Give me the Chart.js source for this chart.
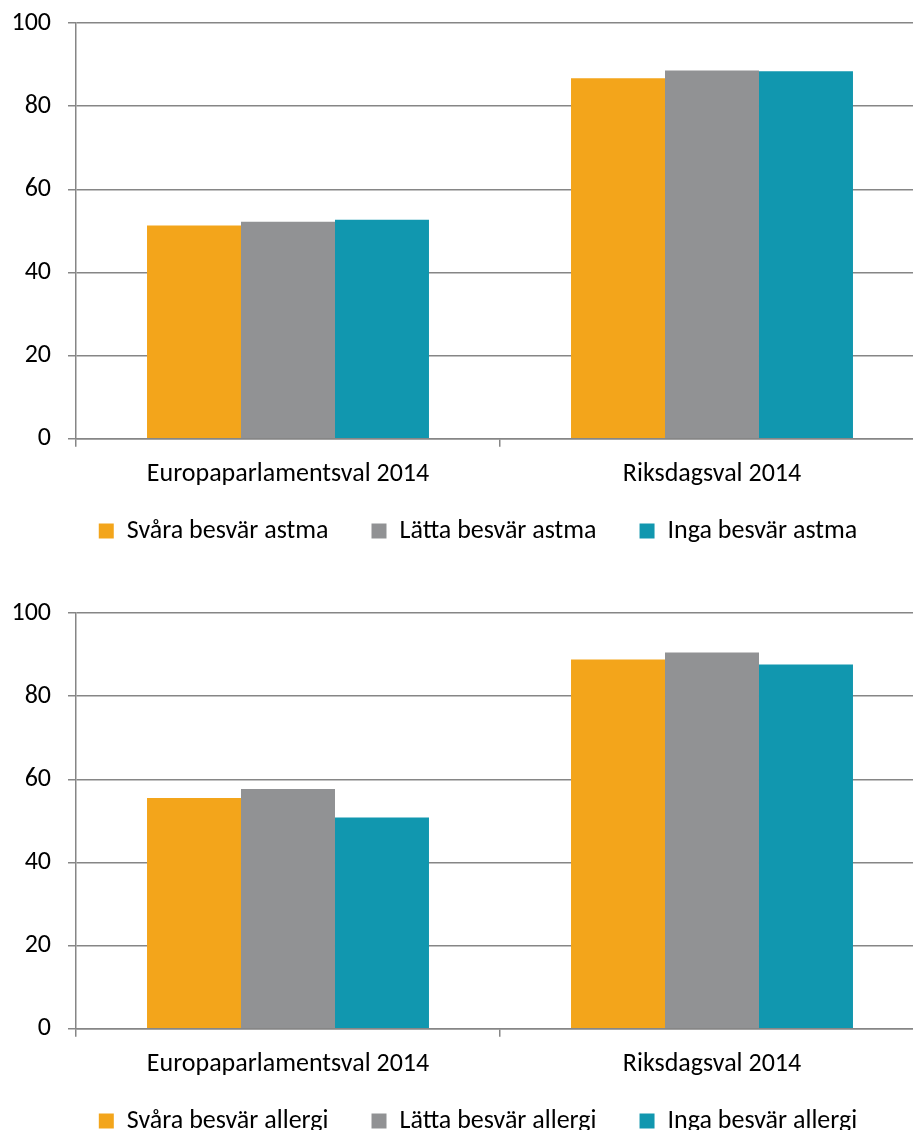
<!DOCTYPE html>
<html>
<head>
<meta charset="utf-8">
<script src="https://cdn.jsdelivr.net/npm/chart.js@4.4.1/dist/chart.umd.min.js"></script>
<style>
  html, body { margin: 0; padding: 0; background: #fff; overflow: hidden; }
  .wrap { position: absolute; left: 0; width: 924px; height: 590px; }
  #top { top: 0; }
  #bottom { top: 590px; }
</style>
</head>
<body>
<div class="wrap" id="top"><canvas id="astmaChart" width="924" height="590"></canvas></div>
<div class="wrap" id="bottom"><canvas id="allergiChart" width="924" height="590"></canvas></div>
<script>
// Chart data
const categories = ['Europaparlamentsval 2014', 'Riksdagsval 2014'];

const astmaLabels = ['Svåra besvär astma', 'Lätta besvär astma', 'Inga besvär astma'];
const astmaSvara = [51.3, 86.7];
const astmaLatta = [52.2, 88.6];
const astmaInga = [52.7, 88.4];

const allergiLabels = ['Svåra besvär allergi', 'Lätta besvär allergi', 'Inga besvär allergi'];
const allergiSvara = [55.5, 88.8];
const allergiLatta = [57.7, 90.5];
const allergiInga = [50.8, 87.6];

const yMin = 0;
const yMax = 100;
const yStep = 20;

const colors = ['#F3A51B', '#919294', '#1197AF'];
const gridColor = '#868686';
const fontFamily = 'Carlito, Calibri, Lato, sans-serif';

// nudge the legend a bit, chart.js always centres it on the full canvas
const legendNudge = {
  id: 'legendNudge',
  afterLayout(chart) {
    const lg = chart.legend;
    lg.left += 16;
    lg.right += 16;
    lg.top -= 27;
    lg.bottom -= 27;
  }
};

function makeDatasets(labels, series) {
  return labels.map((label, i) => ({
    label: label,
    data: series[i],
    backgroundColor: colors[i],
    borderWidth: 0,
    categoryPercentage: 0.665,
    barPercentage: 1
  }));
}

function buildChart(canvasId, labels, series) {
  const ctx = document.getElementById(canvasId).getContext('2d');
  return new Chart(ctx, {
    type: 'bar',
    data: {
      labels: categories,
      datasets: makeDatasets(labels, series)
    },
    plugins: [legendNudge],
    options: {
      responsive: false,
      animation: false,
      layout: { padding: { left: 0, right: 0, top: 23, bottom: 9 } },
      plugins: {
        tooltip: { enabled: false },
        legend: {
          position: 'bottom',
          labels: {
            boxWidth: 15,
            boxHeight: 15,
            padding: 43,
            color: '#000',
            font: { family: fontFamily, size: 26 }
          }
        }
      },
      scales: {
        x: {
          grid: {
            drawOnChartArea: false,
            drawTicks: true,
            tickLength: 8,
            color: gridColor,
            lineWidth: 1.5
          },
          border: { display: true, color: gridColor, width: 1.5 },
          ticks: {
            color: '#000',
            padding: 12,
            maxRotation: 0,
            font: { family: fontFamily, size: 26 }
          }
        },
        y: {
          min: yMin,
          max: yMax,
          afterFit: scale => {
            scale.width = 76;
            scale.paddingTop = 0;
            scale.paddingBottom = 0;
          },
          grid: {
            color: gridColor,
            lineWidth: 1.5,
            tickLength: 8
          },
          border: { display: true, color: gridColor, width: 1.5 },
          ticks: {
            stepSize: yStep,
            color: '#000',
            padding: 17,
            font: { family: fontFamily, size: 26 }
          }
        }
      }
    }
  });
}

buildChart('astmaChart', astmaLabels, [astmaSvara, astmaLatta, astmaInga]);
buildChart('allergiChart', allergiLabels, [allergiSvara, allergiLatta, allergiInga]);
</script>
</body>
</html>
